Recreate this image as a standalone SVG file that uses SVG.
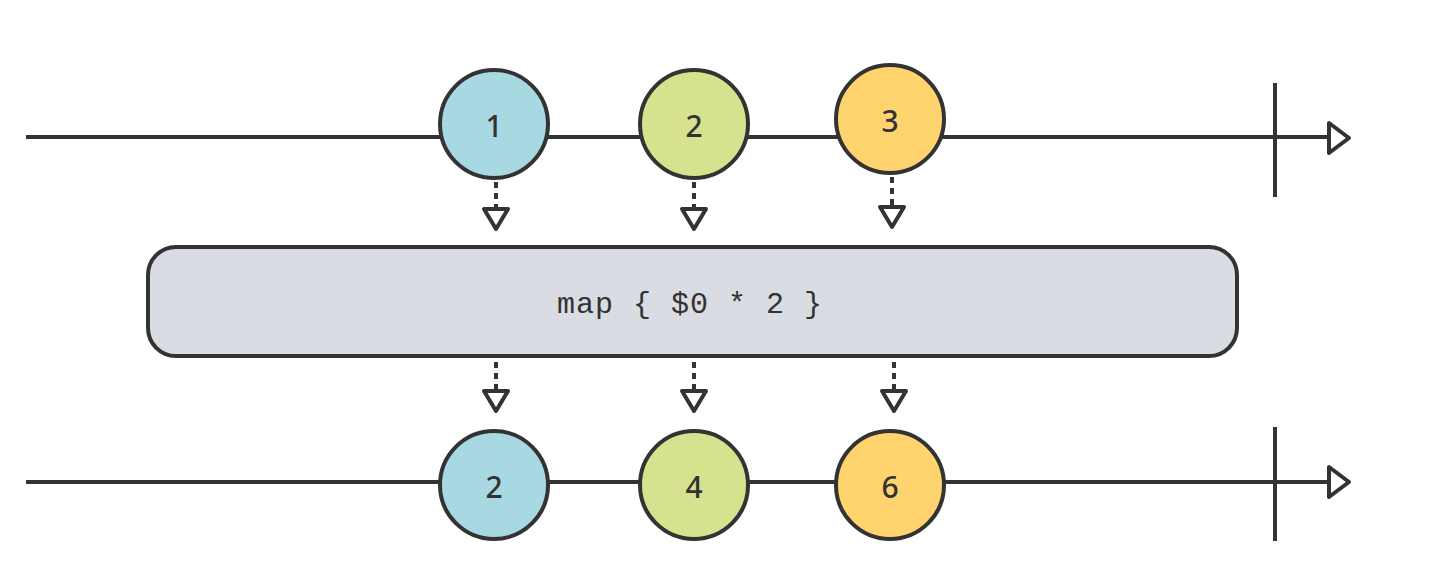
<svg xmlns="http://www.w3.org/2000/svg" width="1440" height="576" viewBox="0 0 1440 576">
<style>
.ln{stroke:#333;stroke-width:4;fill:none}
.dash{stroke:#333;stroke-width:4;fill:none;stroke-dasharray:6 5}
.tri{stroke:#333;stroke-width:4;fill:#fff;stroke-linejoin:round}
.c{stroke:#333;stroke-width:4}
.num{font-family:"Noto Sans","Liberation Sans",sans-serif;font-size:30px;fill:#333;text-anchor:middle;font-weight:500}
.code{font-family:"Liberation Mono","DejaVu Sans Mono",monospace;font-size:30px;fill:#333;text-anchor:middle;letter-spacing:1px}
</style>
<rect width="1440" height="576" fill="#fff"/>
<g id="connectors">
<line class="ln" x1="26" y1="137" x2="1330" y2="137"/>
<line class="ln" x1="1275" y1="83" x2="1275" y2="197"/>
<path class="tri" d="M1329 123 L1349 138 L1329 153 Z"/>
<line class="ln" x1="26" y1="482" x2="1330" y2="482"/>
<line class="ln" x1="1275" y1="427" x2="1275" y2="541"/>
<path class="tri" d="M1329 467 L1349 482 L1329 497 Z"/>
<line class="dash" x1="496" y1="182" x2="496" y2="208"/>
<path class="tri" d="M484 209 L508 209 L496 229 Z"/>
<line class="dash" x1="694" y1="182" x2="694" y2="208"/>
<path class="tri" d="M682 209 L706 209 L694 229 Z"/>
<line class="dash" x1="892" y1="177" x2="892" y2="206"/>
<path class="tri" d="M880 207 L904 207 L892 227 Z"/>
<line class="dash" x1="496" y1="362" x2="496" y2="390"/>
<path class="tri" d="M484 391 L508 391 L496 411 Z"/>
<line class="dash" x1="694" y1="362" x2="694" y2="390"/>
<path class="tri" d="M682 391 L706 391 L694 411 Z"/>
<line class="dash" x1="894" y1="362" x2="894" y2="390"/>
<path class="tri" d="M882 391 L906 391 L894 411 Z"/>
</g>
<g id="in1"><circle class="c" cx="494" cy="124" r="54" fill="#A8D8E2"/><text class="num" x="494" y="137">1</text></g>
<g id="in2"><circle class="c" cx="694" cy="124" r="54" fill="#D6E28E"/><text class="num" x="694" y="137">2</text></g>
<g id="in3"><circle class="c" cx="890" cy="119" r="54" fill="#FFD46F"/><text class="num" x="890" y="132">3</text></g>
<g id="op"><rect x="148" y="247" width="1089" height="109" rx="28" fill="#D9DCE3" stroke="#333" stroke-width="4"/><text class="code" x="690" y="313">map { $0 * 2 }</text></g>
<g id="out2"><circle class="c" cx="494" cy="485" r="54" fill="#A8D8E2"/><text class="num" x="494" y="498">2</text></g>
<g id="out4"><circle class="c" cx="694" cy="485" r="54" fill="#D6E28E"/><text class="num" x="694" y="498">4</text></g>
<g id="out6"><circle class="c" cx="890" cy="485" r="54" fill="#FFD46F"/><text class="num" x="890" y="498">6</text></g>
</svg>
